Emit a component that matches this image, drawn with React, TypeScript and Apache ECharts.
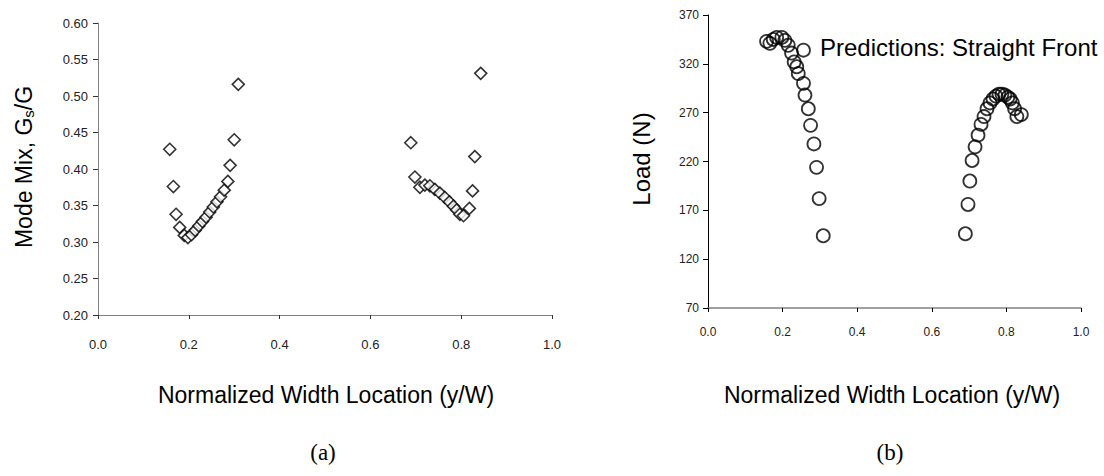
import React, { useEffect, useRef } from "react";
import * as echarts from "echarts";

const modeMixLocation = [
  0.158, 0.166, 0.172, 0.18, 0.19, 0.198, 0.206, 0.214, 0.222, 0.23, 0.238, 0.246, 0.254, 0.262, 0.27, 0.278, 0.286, 0.291, 0.3, 0.309,
  0.689, 0.698, 0.709, 0.72, 0.731, 0.742, 0.753, 0.764, 0.774, 0.783, 0.79, 0.797, 0.805, 0.818, 0.825, 0.83, 0.843,
];
const modeMix = [
  0.427, 0.376, 0.338, 0.32, 0.309, 0.306, 0.31, 0.316, 0.322, 0.328, 0.334, 0.341, 0.348, 0.355, 0.362, 0.371, 0.383, 0.405, 0.44, 0.516,
  0.436, 0.389, 0.375, 0.378, 0.377, 0.372, 0.367, 0.361, 0.355, 0.349, 0.344, 0.338, 0.336, 0.346, 0.37, 0.417, 0.531,
];

const loadLocation = [
  0.157, 0.166, 0.175, 0.184, 0.198, 0.206, 0.215, 0.224, 0.231, 0.238, 0.242, 0.256, 0.256, 0.26, 0.269, 0.275, 0.284, 0.291, 0.298, 0.309,
  0.69, 0.697, 0.702, 0.708, 0.716, 0.724, 0.732, 0.74, 0.748, 0.756, 0.764, 0.772, 0.78, 0.788, 0.796, 0.804, 0.81, 0.816, 0.822, 0.828, 0.84,
];
const load = [
  343, 341, 345, 347, 347, 344, 339, 331, 322, 317, 310, 334, 300, 288, 274, 257, 238, 214, 182, 144,
  146, 176, 200, 221, 235, 247, 258, 266, 274, 280, 284, 287, 289, 289, 288, 286, 284, 280, 274, 266, 268,
];

const xTitle = "Normalized Width Location (y/W)";
const annotation = "Predictions: Straight Front";

export default function App() {
  const ref = useRef<HTMLDivElement>(null);
  useEffect(() => {
    if (!ref.current) return;
    const chart = echarts.init(ref.current, undefined, { renderer: "svg" });
    const sans = "Liberation Sans";
    const tickLabel = (size: number) => ({ fontFamily: sans, fontSize: size, color: "#222" });
    chart.setOption({
      animation: false,
      backgroundColor: "#fff",
      grid: [
        { left: 98, right: 1104 - 552, top: 23, bottom: 476 - 315 },
        { left: 708, right: 1104 - 1081, top: 15, bottom: 476 - 308 },
      ],
      xAxis: [
        {
          gridIndex: 0, type: "value", min: 0, max: 1, interval: 0.2,
          axisLine: { show: true, onZero: false, lineStyle: { color: "#808080", width: 1 } },
          axisTick: { show: true, length: 4, lineStyle: { color: "#333" } },
          splitLine: { show: false },
          axisLabel: { ...tickLabel(13), margin: 23, formatter: (v: number) => v.toFixed(1) },
        },
        {
          gridIndex: 1, type: "value", min: 0, max: 1, interval: 0.2,
          axisLine: { show: true, onZero: false, lineStyle: { color: "#808080", width: 1.5 } },
          axisTick: { show: true, length: 4, lineStyle: { color: "#000" } },
          splitLine: { show: false },
          axisLabel: { ...tickLabel(12), margin: 18, formatter: (v: number) => v.toFixed(1) },
        },
      ],
      yAxis: [
        {
          gridIndex: 0, type: "value", min: 0.2, max: 0.6, interval: 0.05,
          axisLine: { show: true, onZero: false, lineStyle: { color: "#808080", width: 1 } },
          axisTick: { show: true, length: 5, lineStyle: { color: "#333" } },
          splitLine: { show: false },
          axisLabel: { ...tickLabel(13), margin: 10, formatter: (v: number) => v.toFixed(2) },
        },
        {
          gridIndex: 1, type: "value", min: 70, max: 370, interval: 50,
          axisLine: { show: true, onZero: false, lineStyle: { color: "#000", width: 1 } },
          axisTick: { show: true, length: 5, lineStyle: { color: "#000" } },
          splitLine: { show: false },
          axisLabel: { ...tickLabel(12), margin: 9 },
        },
      ],
      series: [
        {
          type: "scatter", xAxisIndex: 0, yAxisIndex: 0,
          symbol: "diamond", symbolSize: 12,
          itemStyle: { color: "#fff", borderColor: "#000", borderWidth: 1.6 },
          data: modeMixLocation.map((x, i) => [x, modeMix[i]]),
        },
        {
          type: "scatter", xAxisIndex: 1, yAxisIndex: 1,
          symbol: "circle", symbolSize: 13,
          itemStyle: { color: "rgba(0,0,0,0)", borderColor: "#000", borderWidth: 1.8 },
          data: loadLocation.map((x, i) => [x, load[i]]),
        },
      ],
      graphic: [
        {
          type: "text", x: 24, y: 167, rotation: Math.PI / 2,
          style: {
            text: "Mode Mix, G{sub|s}/G",
            fontFamily: sans, fontSize: 23, fill: "#000",
            textAlign: "center", textVerticalAlign: "middle",
            rich: { sub: { fontFamily: sans, fontSize: 15, verticalAlign: "bottom", padding: [9, 0, 0, 0] } },
          },
        },
        {
          type: "text", x: 641, y: 159, rotation: Math.PI / 2,
          style: { text: "Load (N)", fontFamily: sans, fontSize: 24, fill: "#000", textAlign: "center", textVerticalAlign: "middle" },
        },
        {
          type: "text", x: 326, y: 395,
          style: { text: xTitle, fontFamily: sans, fontSize: 23, fill: "#000", textAlign: "center", textVerticalAlign: "middle" },
        },
        {
          type: "text", x: 892, y: 395,
          style: { text: xTitle, fontFamily: sans, fontSize: 23, fill: "#000", textAlign: "center", textVerticalAlign: "middle" },
        },
        {
          type: "text", x: 323, y: 452,
          style: { text: "(a)", fontFamily: "Liberation Serif", fontSize: 23, fill: "#000", textAlign: "center", textVerticalAlign: "middle" },
        },
        {
          type: "text", x: 890, y: 452,
          style: { text: "(b)", fontFamily: "Liberation Serif", fontSize: 23, fill: "#000", textAlign: "center", textVerticalAlign: "middle" },
        },
        {
          type: "text", x: 820, y: 47,
          style: { text: annotation, fontFamily: sans, fontSize: 24, fill: "#000", textAlign: "left", textVerticalAlign: "middle" },
        },
      ],
    });
    return () => chart.dispose();
  }, []);
  return <div ref={ref} style={{ position: "fixed", left: 0, top: 0, width: 1104, height: 476 }} />;
}
